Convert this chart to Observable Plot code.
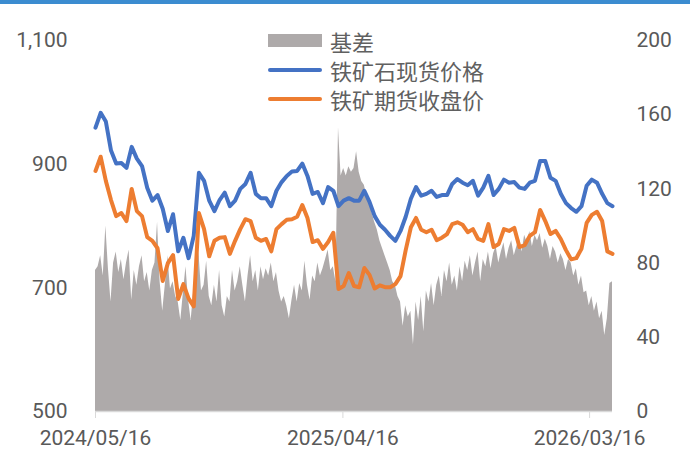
<!DOCTYPE html>
<html><head><meta charset="utf-8">
<script src="https://cdn.jsdelivr.net/npm/d3@7"></script>
<script src="https://cdn.jsdelivr.net/npm/@observablehq/plot@0.6"></script>
<style>
html,body{margin:0;padding:0;background:#fff;}
#wrap{position:relative;width:690px;height:458px;overflow:hidden;background:#fff;}
#topbar{height:4px;background:#3b8cd0;}
#legend{position:absolute;left:268px;top:26px;font-family:"Noto Sans CJK SC";font-size:22px;color:#606060;}
.row{display:flex;align-items:center;height:29px;white-space:nowrap;}
.sw{width:54px;margin-right:8px;}
</style></head><body>
<div id="wrap"><div id="topbar"></div><div id="chart"></div><div id="legend"></div></div>
<script>
// ---- data ----
const startDate = "2024-05-16";
const lineStepDays = 7;     // weekly samples
const basisStepDays = 3.5;  // twice-weekly samples
const seriesNames = ["基差", "铁矿石现货价格", "铁矿期货收盘价"];
const seriesColors = ["#aeaaaa", "#4472c4", "#ed7d31"];

// 铁矿石现货价格 (left axis)
const spot = [
  959, 983, 969, 922, 901, 902, 894, 928, 909, 897,
  862, 841, 850, 828, 792, 819, 759, 781, 748, 784,
  886, 873, 841, 824, 842, 854, 832, 841, 860, 868,
  886, 852, 845, 845, 832, 857, 871, 881, 888, 889,
  901, 881, 852, 855, 837, 863, 857, 832, 841, 845,
  841, 841, 857, 839, 816, 802, 794, 784, 776, 792,
  815, 844, 863, 849, 852, 857, 847, 850, 850, 868,
  876, 870, 866, 873, 849, 862, 881, 850, 860, 875,
  870, 871, 862, 860, 870, 873, 905, 905, 878, 873,
  852, 837, 829, 823, 832, 865, 875, 870, 852, 837, 832
];
// 铁矿期货收盘价 (left axis)
const futures = [
  889, 912, 873, 842, 816, 821, 808, 860, 824, 816,
  782, 776, 764, 711, 740, 753, 682, 706, 683, 670,
  821, 795, 751, 776, 781, 782, 755, 776, 795, 811,
  808, 781, 776, 779, 759, 795, 803, 810, 811, 815,
  834, 813, 774, 777, 763, 774, 789, 698, 703, 724,
  703, 701, 732, 721, 699, 704, 701, 701, 706, 719,
  761, 798, 813, 794, 790, 794, 777, 781, 787, 803,
  806, 802, 790, 795, 779, 776, 803, 766, 771, 795,
  792, 797, 766, 769, 784, 790, 826, 808, 787, 792,
  779, 761, 746, 748, 763, 805, 818, 823, 808, 759, 755
];
// 基差 (right axis)
const basis = [
  76, 78, 84, 73, 100, 77, 59, 80, 86, 75,
  82, 71, 80, 87, 60, 76, 68, 78, 84, 70,
  75, 65, 76, 80, 102, 70, 54, 68, 84, 66,
  70, 62, 59, 49, 64, 78, 60, 49, 65, 68,
  86, 65, 68, 81, 62, 57, 68, 59, 76, 57,
  51, 62, 59, 76, 65, 70, 78, 68, 59, 73,
  84, 70, 76, 65, 78, 71, 77, 73, 80, 70,
  75, 65, 59, 62, 57, 50, 60, 68, 59, 69,
  65, 81, 68, 60, 73, 70, 80, 73, 77, 82,
  87, 76, 78, 70, 153, 127, 131, 127, 132, 129,
  131, 140, 129, 124, 122, 116, 113, 107, 102, 98,
  92, 88, 84, 80, 76, 70, 68, 62, 59, 46,
  57, 51, 54, 36, 59, 49, 62, 43, 65, 59,
  69, 57, 68, 73, 62, 76, 70, 80, 68, 73,
  65, 78, 70, 81, 76, 84, 73, 80, 86, 70,
  82, 78, 86, 77, 85, 89, 80, 86, 91, 82,
  88, 92, 84, 89, 93, 86, 95, 91, 97, 89,
  95, 92, 96, 88, 93, 89, 82, 89, 86, 80,
  85, 82, 76, 82, 80, 73, 77, 68, 73, 64,
  65, 57, 62, 54, 59, 50, 54, 41, 50, 69,
  70
];

const leftTicks = [500, 700, 900, 1100];
const rightTicks = [0, 40, 80, 120, 160, 200];
const xTickLabels = ["2024/05/16", "2025/04/16", "2026/03/16"];

// ---- build tables ----
const DAY = 864e5;
const t0 = new Date(startDate + "T00:00:00Z").getTime();
const spotData = spot.map((v, i) => ({date: new Date(t0 + i * lineStepDays * DAY), value: v}));
const futData = futures.map((v, i) => ({date: new Date(t0 + i * lineStepDays * DAY), value: v}));
const basisData = basis.map((v, i) => ({date: new Date(t0 + i * basisStepDays * DAY), value: v}));
const parseTick = d3.utcParse("%Y/%m/%d");
const xTicks = xTickLabels.map(parseTick);

// right axis (0..200) mapped onto left axis (500..1100)
const rMin = 0, rMax = 200, lMin = 500, lMax = 1100;
const toLeft = v => lMin + (v - rMin) * (lMax - lMin) / (rMax - rMin);
const toRight = v => (v - lMin) * (rMax - rMin) / (lMax - lMin) + rMin;

const chart = Plot.plot({
  width: 690,
  height: 454,
  marginLeft: 95,
  marginRight: 78,
  marginTop: 36,
  marginBottom: 47,
  style: {fontFamily: "Roboto, 'Liberation Sans', sans-serif", fontSize: "21px", color: "#595959", background: "#fff"},
  x: {type: "utc", domain: [spotData[0].date, spotData[spotData.length - 1].date]},
  y: {domain: [lMin, lMax]},
  marks: [
    Plot.areaY(basisData, {x: "date", y1: () => lMin, y2: d => toLeft(d.value), fill: seriesColors[0]}),
    Plot.ruleY([lMin], {stroke: "#d9d9d9", strokeWidth: 1.5}),
    Plot.lineY(spotData, {x: "date", y: "value", stroke: seriesColors[1], strokeWidth: 4, strokeLinejoin: "round"}),
    Plot.lineY(futData, {x: "date", y: "value", stroke: seriesColors[2], strokeWidth: 4, strokeLinejoin: "round"}),
    Plot.axisY({anchor: "left", ticks: leftTicks, tickSize: 0, tickPadding: 28, tickFormat: d3.format(","), label: null, fill: "#595959"}),
    Plot.axisY({anchor: "right", ticks: rightTicks.map(toLeft), tickSize: 0, tickPadding: 24, tickFormat: d => String(Math.round(toRight(d))), label: null, fill: "#595959"}),
    Plot.axisX({ticks: xTicks, tickFormat: d3.utcFormat("%Y/%m/%d"), tickSize: 7, tickPadding: 12, stroke: "#d9d9d9", fill: "#595959", label: null})
  ]
});
document.getElementById("chart").appendChild(chart);

// ---- legend ----
const legend = document.getElementById("legend");
seriesNames.forEach((name, i) => {
  const row = document.createElement("div");
  row.className = "row";
  const sw = document.createElement("div");
  sw.className = "sw";
  sw.style.background = seriesColors[i];
  if (i === 0) { sw.style.height = "13px"; }
  else { sw.style.height = "4px"; sw.style.borderRadius = "2px"; }
  const label = document.createElement("span");
  label.textContent = name;
  row.appendChild(sw);
  row.appendChild(label);
  legend.appendChild(row);
});
</script>
</body></html>
